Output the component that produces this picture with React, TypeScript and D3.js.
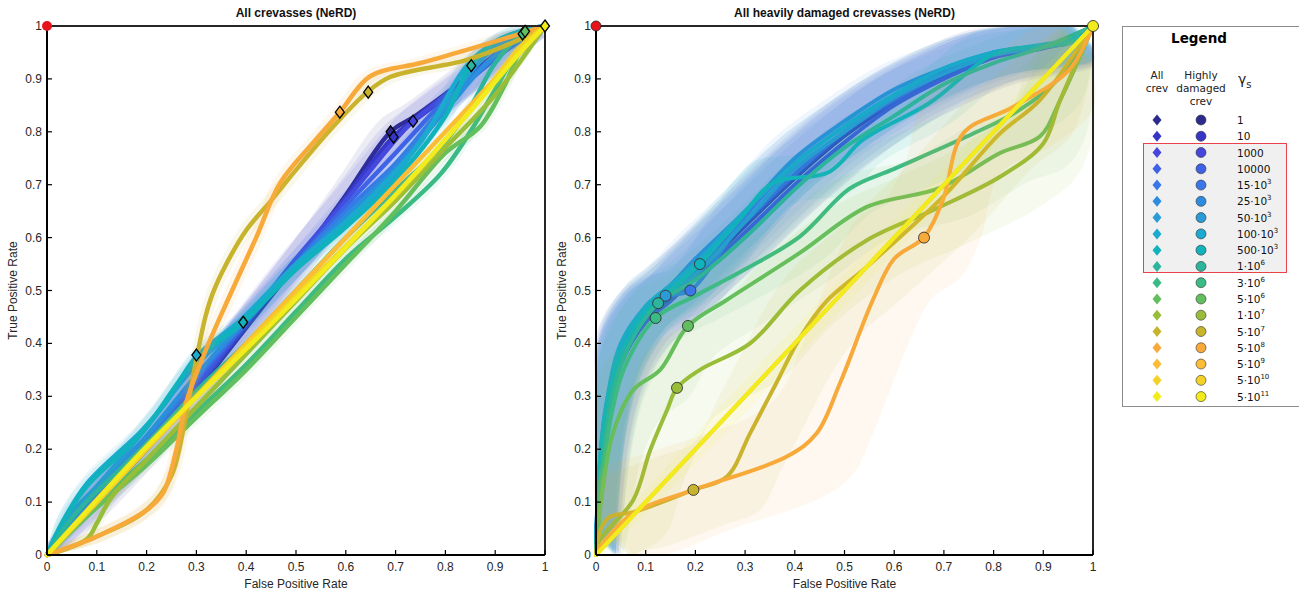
import React from 'react';
import * as d3 from 'd3';

type P = [number, number];

// ---------- legend / series definitions ----------
const gammaBase = ['1', '10', '1000', '10000', '15·10', '25·10', '50·10', '100·10', '500·10', '1·10', '3·10', '5·10', '1·10', '5·10', '5·10', '5·10', '5·10', '5·10'];
const gammaExp = ['', '', '', '', '3', '3', '3', '3', '3', '6', '6', '6', '7', '7', '8', '9', '10', '11'];
const seriesColors = ['#2d2a8e', '#3636c6', '#4646dc', '#4060e6', '#3a76ea', '#2e8ce0', '#2a9bd6', '#1caad0', '#10b2bc', '#2cb49c', '#3abb86', '#62bf5e', '#98bd38', '#c8b42c', '#f7a93a', '#fcbc36', '#f4d126', '#f2ec1c'];

const ticks = [0, 0.1, 0.2, 0.3, 0.4, 0.5, 0.6, 0.7, 0.8, 0.9, 1];
const tickLabels = ['0', '0.1', '0.2', '0.3', '0.4', '0.5', '0.6', '0.7', '0.8', '0.9', '1'];

// ---------- left panel: All crevasses (FPR, TPR) ----------
const leftG1: P[] = [[0, 0], [0.1, 0.1], [0.2, 0.2], [0.3, 0.31], [0.4, 0.43], [0.5, 0.55], [0.6, 0.68], [0.69, 0.8], [0.74, 0.83], [0.84, 0.9], [0.92, 0.96], [1, 1]];
const leftG10: P[] = [[0, 0], [0.1, 0.105], [0.2, 0.205], [0.3, 0.315], [0.4, 0.435], [0.5, 0.555], [0.6, 0.675], [0.695, 0.79], [0.75, 0.83], [0.85, 0.9], [0.93, 0.96], [1, 1]];
const leftG1000: P[] = [[0, 0], [0.1, 0.11], [0.2, 0.21], [0.3, 0.32], [0.4, 0.44], [0.5, 0.56], [0.6, 0.67], [0.7, 0.785], [0.735, 0.82], [0.85, 0.905], [0.93, 0.965], [1, 1]];
const leftG10000: P[] = [[0, 0], [0.1, 0.115], [0.2, 0.215], [0.3, 0.33], [0.4, 0.44], [0.5, 0.55], [0.6, 0.66], [0.7, 0.76], [0.8, 0.86], [0.9, 0.94], [1, 1]];
const leftG15e3: P[] = [[0, 0], [0.1, 0.12], [0.2, 0.22], [0.3, 0.335], [0.4, 0.445], [0.5, 0.55], [0.6, 0.65], [0.7, 0.74], [0.8, 0.85], [0.9, 0.94], [1, 1]];
const leftG25e3: P[] = [[0, 0], [0.1, 0.125], [0.2, 0.225], [0.3, 0.34], [0.4, 0.445], [0.5, 0.545], [0.6, 0.64], [0.7, 0.73], [0.8, 0.84], [0.9, 0.945], [1, 1]];
const leftG50e3: P[] = [[0, 0], [0.05, 0.08], [0.1, 0.13], [0.19, 0.23], [0.3, 0.36], [0.4, 0.445], [0.5, 0.545], [0.6, 0.63], [0.7, 0.72], [0.8, 0.85], [0.9, 0.96], [1, 1]];
const leftG100e3: P[] = [[0, 0], [0.03, 0.06], [0.08, 0.135], [0.19, 0.235], [0.24, 0.29], [0.3, 0.375], [0.39, 0.445], [0.5, 0.55], [0.6, 0.63], [0.675, 0.7], [0.75, 0.78], [0.843, 0.925], [0.9, 0.97], [0.95, 0.99], [1, 1]];
const leftG500e3: P[] = [[0, 0], [0.03, 0.06], [0.08, 0.13], [0.19, 0.23], [0.3, 0.37], [0.394, 0.44], [0.5, 0.54], [0.6, 0.62], [0.7, 0.71], [0.8, 0.83], [0.85, 0.925], [0.9, 0.97], [0.95, 0.99], [1, 1]];
const leftG1e6: P[] = [[0, 0], [0.05, 0.07], [0.1, 0.12], [0.2, 0.21], [0.3, 0.31], [0.4, 0.4], [0.5, 0.5], [0.6, 0.6], [0.7, 0.69], [0.79, 0.77], [0.852, 0.85], [0.9, 0.93], [0.955, 0.985], [1, 1]];
const leftG3e6: P[] = [[0, 0], [0.1, 0.1], [0.2, 0.18], [0.3, 0.27], [0.4, 0.36], [0.5, 0.46], [0.6, 0.56], [0.7, 0.64], [0.79, 0.72], [0.85, 0.8], [0.9, 0.88], [0.955, 0.965], [1, 1]];
const leftG5e6: P[] = [[0, 0], [0.1, 0.09], [0.2, 0.17], [0.3, 0.26], [0.4, 0.35], [0.5, 0.45], [0.6, 0.55], [0.7, 0.65], [0.8, 0.76], [0.87, 0.81], [0.92, 0.89], [0.96, 0.97], [1, 1]];
const leftG1e7: P[] = [[0, 0], [0.08, 0.03], [0.1, 0.06], [0.13, 0.11], [0.2, 0.18], [0.3, 0.28], [0.4, 0.38], [0.5, 0.48], [0.6, 0.58], [0.7, 0.67], [0.8, 0.77], [0.9, 0.87], [1, 1]];
const leftG5e7: P[] = [[0, 0], [0.1, 0.035], [0.2, 0.085], [0.25, 0.15], [0.28, 0.27], [0.3, 0.37], [0.318, 0.45], [0.333, 0.495], [0.36, 0.55], [0.4, 0.614], [0.45, 0.67], [0.5, 0.728], [0.568, 0.803], [0.643, 0.875], [0.69, 0.904], [0.843, 0.936], [0.95, 0.975], [1, 1]];
const leftG5e8: P[] = [[0, 0], [0.1, 0.035], [0.2, 0.085], [0.233, 0.117], [0.26, 0.2], [0.28, 0.29], [0.313, 0.374], [0.363, 0.482], [0.42, 0.6], [0.468, 0.703], [0.534, 0.779], [0.588, 0.837], [0.649, 0.905], [0.75, 0.93], [0.843, 0.955], [0.95, 0.985], [1, 1]];
const leftG5e9: P[] = [[0, 0], [0.2, 0.2], [0.5, 0.5], [0.8, 0.8], [1, 1]];
const leftG5e10: P[] = [[0, 0], [0.1, 0.1], [0.3, 0.3], [0.5, 0.49], [0.7, 0.68], [0.85, 0.84], [0.95, 0.96], [1, 1]];
const leftG5e11: P[] = [[0, 0], [0.2, 0.205], [0.454, 0.44], [0.709, 0.69], [0.869, 0.86], [0.95, 0.95], [1, 1]];
const leftCurves = [leftG1, leftG10, leftG1000, leftG10000, leftG15e3, leftG25e3, leftG50e3, leftG100e3, leftG500e3, leftG1e6, leftG3e6, leftG5e6, leftG1e7, leftG5e7, leftG5e8, leftG5e9, leftG5e10, leftG5e11];
const leftBandWidth = [0.022, 0.02, 0.02, 0.015, 0.015, 0.012, 0.012, 0.01, 0.01, 0.008, 0.008, 0.008, 0.008, 0.01, 0.01, 0, 0.006, 0.006];
// markers: [series index, FPR, TPR]
const leftMarkers: [number, number, number][] = [[7, 0.3, 0.378], [8, 0.394, 0.44], [14, 0.588, 0.837], [13, 0.645, 0.875], [0, 0.69, 0.8], [1, 0.696, 0.79], [2, 0.735, 0.82], [9, 0.852, 0.925], [10, 0.955, 0.985], [11, 0.96, 0.99], [17, 1, 1]];

// ---------- right panel: heavily damaged crevasses ----------
const rightG1: P[] = [[0, 0], [0.005, 0.12], [0.02, 0.25], [0.05, 0.365], [0.1, 0.448], [0.15, 0.488], [0.2, 0.532], [0.3, 0.622], [0.4, 0.712], [0.5, 0.792], [0.6, 0.856], [0.7, 0.905], [0.8, 0.942], [0.9, 0.96], [0.96, 0.973], [1, 1]];
const rightG10: P[] = [[0, 0], [0.005, 0.12], [0.02, 0.255], [0.05, 0.368], [0.1, 0.452], [0.15, 0.49], [0.2, 0.537], [0.3, 0.625], [0.4, 0.716], [0.5, 0.795], [0.6, 0.858], [0.7, 0.907], [0.8, 0.943], [0.9, 0.96], [0.96, 0.973], [1, 1]];
const rightG1000: P[] = [[0, 0], [0.005, 0.11], [0.02, 0.24], [0.05, 0.36], [0.1, 0.44], [0.15, 0.48], [0.2, 0.525], [0.3, 0.61], [0.4, 0.7], [0.5, 0.78], [0.6, 0.85], [0.7, 0.9], [0.8, 0.94], [0.9, 0.958], [0.96, 0.972], [1, 1]];
const rightG10000: P[] = [[0, 0], [0.005, 0.12], [0.02, 0.26], [0.05, 0.37], [0.1, 0.455], [0.15, 0.49], [0.2, 0.54], [0.3, 0.63], [0.4, 0.72], [0.5, 0.8], [0.6, 0.86], [0.7, 0.91], [0.8, 0.945], [0.9, 0.96], [0.96, 0.972], [1, 1]];
const rightG15e3: P[] = [[0, 0], [0.005, 0.13], [0.02, 0.27], [0.05, 0.38], [0.1, 0.46], [0.15, 0.49], [0.19, 0.5], [0.3, 0.64], [0.4, 0.74], [0.5, 0.81], [0.6, 0.87], [0.7, 0.915], [0.8, 0.95], [0.9, 0.962], [0.96, 0.975], [1, 1]];
const rightG25e3: P[] = [[0, 0], [0.005, 0.14], [0.02, 0.28], [0.05, 0.39], [0.1, 0.47], [0.15, 0.51], [0.2, 0.56], [0.3, 0.65], [0.4, 0.75], [0.5, 0.82], [0.6, 0.88], [0.7, 0.92], [0.8, 0.95], [0.9, 0.963], [0.96, 0.975], [1, 1]];
const rightG50e3: P[] = [[0, 0], [0.005, 0.13], [0.02, 0.27], [0.05, 0.38], [0.1, 0.46], [0.14, 0.49], [0.2, 0.53], [0.3, 0.63], [0.4, 0.73], [0.5, 0.8], [0.6, 0.865], [0.7, 0.91], [0.8, 0.945], [0.9, 0.96], [0.96, 0.97], [1, 1]];
const rightG100e3: P[] = [[0, 0], [0.005, 0.14], [0.02, 0.28], [0.05, 0.4], [0.1, 0.47], [0.15, 0.51], [0.2, 0.55], [0.3, 0.65], [0.4, 0.74], [0.5, 0.81], [0.6, 0.87], [0.7, 0.92], [0.8, 0.95], [0.9, 0.965], [0.96, 0.975], [1, 1]];
const rightG500e3: P[] = [[0, 0], [0.005, 0.13], [0.02, 0.27], [0.05, 0.38], [0.1, 0.46], [0.15, 0.5], [0.209, 0.55], [0.288, 0.633], [0.356, 0.703], [0.469, 0.724], [0.537, 0.785], [0.67, 0.854], [0.805, 0.949], [0.9, 0.962], [0.96, 0.972], [1, 1]];
const rightG1e6: P[] = [[0, 0], [0.01, 0.15], [0.04, 0.33], [0.08, 0.42], [0.125, 0.476], [0.2, 0.52], [0.3, 0.6], [0.41, 0.7], [0.5, 0.77], [0.6, 0.83], [0.7, 0.89], [0.8, 0.93], [0.9, 0.96], [1, 1]];
const rightG3e6: P[] = [[0, 0], [0.01, 0.12], [0.03, 0.26], [0.06, 0.36], [0.12, 0.448], [0.2, 0.49], [0.3, 0.54], [0.41, 0.602], [0.511, 0.693], [0.6, 0.73], [0.746, 0.791], [0.85, 0.84], [0.93, 0.9], [1, 1]];
const rightG5e6: P[] = [[0, 0], [0.01, 0.1], [0.034, 0.23], [0.075, 0.312], [0.129, 0.35], [0.185, 0.433], [0.263, 0.482], [0.41, 0.571], [0.545, 0.658], [0.692, 0.694], [0.813, 0.76], [0.893, 0.791], [0.934, 0.86], [1, 1]];
const rightG1e7: P[] = [[0, 0], [0.008, 0.028], [0.075, 0.104], [0.109, 0.198], [0.143, 0.274], [0.163, 0.316], [0.209, 0.35], [0.31, 0.4], [0.41, 0.5], [0.545, 0.595], [0.678, 0.652], [0.813, 0.715], [0.9, 0.778], [0.934, 0.86], [1, 1]];
const rightG5e7: P[] = [[0, 0], [0.01, 0.05], [0.028, 0.072], [0.075, 0.081], [0.196, 0.123], [0.263, 0.148], [0.31, 0.23], [0.36, 0.32], [0.41, 0.41], [0.464, 0.48], [0.545, 0.545], [0.698, 0.677], [0.813, 0.797], [0.893, 0.86], [1, 1]];
const rightG5e8: P[] = [[0, 0], [0.008, 0.015], [0.075, 0.079], [0.196, 0.123], [0.384, 0.186], [0.444, 0.23], [0.491, 0.325], [0.557, 0.482], [0.6, 0.56], [0.659, 0.6], [0.698, 0.671], [0.739, 0.797], [0.839, 0.847], [0.952, 0.917], [1, 1]];
const rightG5e9: P[] = [[0, 0], [0.25, 0.25], [0.5, 0.5], [0.75, 0.75], [1, 1]];
const rightG5e10: P[] = [[0, 0], [0.25, 0.25], [0.5, 0.5], [0.75, 0.75], [1, 1]];
const rightG5e11: P[] = [[0, 0], [0.25, 0.25], [0.5, 0.5], [0.75, 0.75], [1, 1]];
const rightCurves = [rightG1, rightG10, rightG1000, rightG10000, rightG15e3, rightG25e3, rightG50e3, rightG100e3, rightG500e3, rightG1e6, rightG3e6, rightG5e6, rightG1e7, rightG5e7, rightG5e8, rightG5e9, rightG5e10, rightG5e11];
const rightBandWidth = [0.05, 0.045, 0.045, 0.04, 0.04, 0.04, 0.035, 0.04, 0.04, 0.035, 0.045, 0.055, 0.065, 0.065, 0.075, 0, 0, 0.015];
const rightMarkers: [number, number, number][] = [[6, 0.14, 0.49], [4, 0.19, 0.5], [8, 0.209, 0.55], [9, 0.125, 0.476], [10, 0.12, 0.448], [11, 0.185, 0.433], [12, 0.163, 0.316], [13, 0.196, 0.123], [14, 0.66, 0.6], [17, 1, 1]];

// ---------- layout ----------
const W = 1299;
const H = 595;
const yTop = 26;
const yBot = 555;
const FONT = "'Liberation Sans', Arial, sans-serif";
const LFONT = "'DejaVu Sans', Verdana, sans-serif";

const clamp = (v: number) => Math.max(0, Math.min(1, v));

type PanelProps = {
  x0: number;
  x1: number;
  title: string;
  curves: P[][];
  bands: number[];
  bandOpacity: number;
  lineWidth: number;
  markers: [number, number, number][];
  shape: 'diamond' | 'circle';
  id: string;
};

function Panel({ x0, x1, title, curves, bands, bandOpacity, lineWidth, markers, shape, id }: PanelProps) {
  const x = d3.scaleLinear().domain([0, 1]).range([x0, x1]);
  const y = d3.scaleLinear().domain([0, 1]).range([yBot, yTop]);
  const line = d3.line<P>().x((d) => x(d[0])).y((d) => y(d[1])).curve(d3.curveCatmullRom.alpha(0.5));
  const bandPath = (pts: P[], w: number) => {
    const upper: P[] = pts.map(([a, b]) => [clamp(a - w), clamp(b + w)]);
    const lower: P[] = pts.map(([a, b]) => [clamp(a + w), clamp(b - w)]).reverse() as P[];
    return (line(upper) || '') + (line(lower) || '').replace(/^M/, 'L') + 'Z';
  };
  const midX = (x0 + x1) / 2;
  const diamond = (cx: number, cy: number, r: number) => `M${cx},${cy - r}L${cx + r * 0.75},${cy}L${cx},${cy + r}L${cx - r * 0.75},${cy}Z`;
  return (
    <g>
      <defs>
        <clipPath id={id}>
          <rect x={x0 - 6} y={yTop - 6} width={x1 - x0 + 12} height={yBot - yTop + 12} />
        </clipPath>
      </defs>
      <g clipPath={`url(#${id})`}>
        {curves.map((c, i) => (
          <g key={'s' + i}>
            {bands[i] > 0 ? <path d={bandPath(c, bands[i])} fill={seriesColors[i]} fillOpacity={bandOpacity} stroke="none" /> : null}
            <path d={line(c) || ''} fill="none" stroke={seriesColors[i]} strokeWidth={lineWidth} strokeLinejoin="round" strokeLinecap="round" />
          </g>
        ))}
      </g>
      {/* axes box */}
      <line x1={x0} y1={yTop} x2={x1} y2={yTop} stroke="#262626" strokeWidth={2} />
      <line x1={x1} y1={yTop} x2={x1} y2={yBot} stroke="#262626" strokeWidth={2} />
      <line x1={x0} y1={yBot} x2={x1} y2={yBot} stroke="#000" strokeWidth={2} />
      <line x1={x0} y1={yTop} x2={x0} y2={yBot} stroke="#000" strokeWidth={2} />
      {ticks.map((t, i) => (
        <g key={'xt' + i}>
          <line x1={x(t)} x2={x(t)} y1={yBot} y2={yBot - 5} stroke="#000" strokeWidth={1.2} />
          <text x={x(t)} y={yBot + 16} textAnchor="middle" fontFamily={FONT} fontSize={12} fill="#262626">{tickLabels[i]}</text>
          <line x1={x0} x2={x0 + 5} y1={y(t)} y2={y(t)} stroke="#000" strokeWidth={1.2} />
          <text x={x0 - 5} y={y(t) + 4} textAnchor="end" fontFamily={FONT} fontSize={12} fill="#262626">{tickLabels[i]}</text>
        </g>
      ))}
      <text x={midX} y={17} textAnchor="middle" fontFamily={FONT} fontSize={12} fontWeight="bold" fill="#111">{title}</text>
      <text x={midX} y={588} textAnchor="middle" fontFamily={FONT} fontSize={12} fill="#262626">False Positive Rate</text>
      <text transform={`translate(${x0 - 30},${(yTop + yBot) / 2}) rotate(-90)`} textAnchor="middle" fontFamily={FONT} fontSize={12} fill="#262626">True Positive Rate</text>
      {/* markers */}
      {markers.map(([s, fx, ty], i) =>
        shape === 'diamond' ? (
          <path key={'m' + i} d={diamond(x(fx), y(ty), 6)} fill={seriesColors[s]} stroke="#000" strokeWidth={1.3} />
        ) : (
          <circle key={'m' + i} cx={x(fx)} cy={y(ty)} r={5.5} fill={seriesColors[s]} stroke="#333" strokeWidth={0.9} />
        )
      )}
      <circle cx={x(0)} cy={y(1)} r={5} fill="#e8141c" stroke={shape === 'circle' ? '#222' : 'none'} strokeWidth={0.8} />
    </g>
  );
}

function Legend() {
  const rowY0 = 120;
  const rowStep = 16.27;
  const dx = 1157;
  const cx = 1201;
  const lx = 1237;
  return (
    <g>
      <rect x={1122.5} y={26.5} width={190} height={380} fill="#fff" stroke="#8c8c8c" strokeWidth={1} />
      <rect x={1143.5} y={143.5} width={143} height={129} fill="#f0f0f0" stroke="#e8434a" strokeWidth={1} />
      <text x={1199} y={43} textAnchor="middle" fontFamily={LFONT} fontSize={13.5} fontWeight="bold" fill="#000">Legend</text>
      <text x={dx} y={79} textAnchor="middle" fontFamily={LFONT} fontSize={10.5} fill="#222">All</text>
      <text x={dx} y={92} textAnchor="middle" fontFamily={LFONT} fontSize={10.5} fill="#222">crev</text>
      <text x={cx} y={79} textAnchor="middle" fontFamily={LFONT} fontSize={10.5} fill="#222">Highly</text>
      <text x={cx} y={92} textAnchor="middle" fontFamily={LFONT} fontSize={10.5} fill="#222">damaged</text>
      <text x={cx} y={105} textAnchor="middle" fontFamily={LFONT} fontSize={10.5} fill="#222">crev</text>
      <text x={1238} y={84} fontFamily={LFONT} fontSize={14} fill="#222">γ<tspan dy={4} fontSize={10}>s</tspan></text>
      {gammaBase.map((b, i) => {
        const yy = rowY0 + i * rowStep;
        return (
          <g key={i}>
            <path d={`M${dx},${yy - 5.5}L${dx + 4.5},${yy}L${dx},${yy + 5.5}L${dx - 4.5},${yy}Z`} fill={seriesColors[i]} />
            <circle cx={cx} cy={yy} r={5} fill={seriesColors[i]} stroke="#333" strokeWidth={0.6} />
            <text x={lx} y={yy + 4} fontFamily={LFONT} fontSize={10.5} fill="#111">
              {b}
              {gammaExp[i] ? <tspan dy={-5} fontSize={7}>{gammaExp[i]}</tspan> : null}
            </text>
          </g>
        );
      })}
    </g>
  );
}

export default function App() {
  return (
    <svg width={W} height={H} style={{ position: 'absolute', left: 0, top: 0, background: '#fff' }}>
      <rect x={0} y={0} width={W} height={H} fill="#fff" />
      <Panel id="clipL" x0={47} x1={545} title="All crevasses (NeRD)" curves={leftCurves} bands={leftBandWidth} bandOpacity={0.09} lineWidth={4.5} markers={leftMarkers} shape="diamond" />
      <Panel id="clipR" x0={596} x1={1093} title="All heavily damaged crevasses (NeRD)" curves={rightCurves} bands={rightBandWidth} bandOpacity={0.08} lineWidth={4} markers={rightMarkers} shape="circle" />
      <Legend />
    </svg>
  );
}
